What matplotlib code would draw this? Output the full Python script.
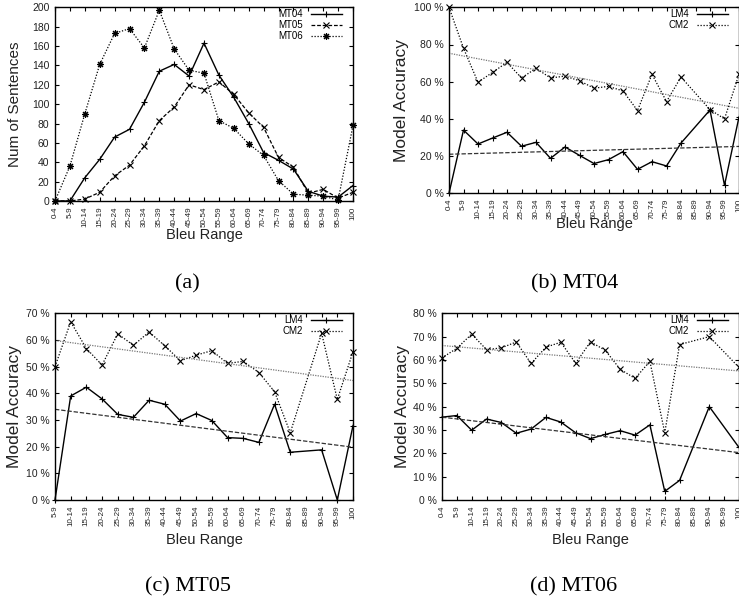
import numpy as np
import matplotlib.pyplot as plt
from matplotlib.ticker import FuncFormatter

plt.rcParams['font.family'] = ['Liberation Sans', 'DejaVu Sans']

# categories
bleu_ranges = ['0-4', '5-9', '10-14', '15-19', '20-24', '25-29', '30-34', '35-39',
               '40-44', '45-49', '50-54', '55-59', '60-64', '65-69', '70-74',
               '75-79', '80-84', '85-89', '90-94', '95-99', '100']
bleu_ranges_c = bleu_ranges[1:]

# (a) number of sentences in each bleu range
mt04_counts = [0, 0, 24, 43, 66, 74, 102, 134, 141, 129, 163, 130, 107, 80, 50, 42, 33, 10, 5, 4, 16]
mt05_counts = [0, 0, 2, 9, 26, 37, 57, 83, 97, 120, 115, 123, 110, 91, 76, 45, 35, 8, 12, 3, 9]
mt06_counts = [0, 36, 90, 141, 173, 178, 158, 197, 157, 135, 132, 83, 75, 59, 47, 21, 7, 6, 5, 1, 78]

# (b) MT04 model accuracy (%), None = no data
b_lm4 = [0, 34, 26.5, 29.7, 32.8, 25.3, 27.4, 18.8, 24.9, 20.4, 16, 18.1, 22.4, 12.9, 17, 14.7, 27, None, 44.8, 4.3, 41]
b_cm2 = [100, 78, 59.7, 65, 70.4, 62, 67.2, 62, 63, 60.5, 56.5, 57.5, 55, 44.5, 64, 49.3, 62.5, None, 45, 40, 64]
b_lm4_trend = [21, 25.2]
b_cm2_trend = [75.3, 45.7]

# (c) MT05
c_lm4 = [0, 39, 42.3, 37.9, 32.1, 31, 37.4, 35.9, 29.6, 32.4, 29.8, 23.4, 23.1, 21.6, 35.9, 17.9, None, 18.8, 0, 27.9]
c_cm2 = [50, 66.8, 56.8, 50.6, 62.3, 58, 63, 57.8, 52.2, 54.3, 56, 51.2, 52, 47.8, 40.6, 25.2, None, 62.5, 37.7, 55.6]
c_lm4_trend = [34, 19.8]
c_cm2_trend = [59.8, 44.8]

# (d) MT06
d_lm4 = [35.5, 36.2, 29.9, 34.7, 33.2, 28.6, 30.4, 35.4, 33.4, 28.8, 26.3, 28.1, 29.7, 27.8, 32.2, 3.7, 8.4, None, 40, None, 22.5]
d_cm2 = [60.9, 65, 71.1, 64.4, 65.2, 67.7, 58.5, 65.5, 67.6, 58.6, 67.8, 64.1, 56, 52.1, 59.4, 28.8, 66.6, None, 70, None, 56.8]
d_lm4_trend = [35.5, 20.3]
d_cm2_trend = [66.2, 55.3]

W, H = 739, 602
fig = plt.figure(figsize=(W / 100, H / 100), dpi=100)


def px_axes(left, top, right, bottom):
    return fig.add_axes([left / W, 1 - bottom / H, (right - left) / W, (bottom - top) / H])


def style_axes(ax, labels, ymax, ystep, pct):
    ax.set_xlim(0, len(labels) - 1)
    ax.set_ylim(0, ymax)
    ax.set_xticks(np.arange(len(labels)))
    ax.set_xticklabels(labels, rotation=90, fontsize=5.8, color='#222222')
    ax.set_yticks(np.arange(0, ymax + 1, ystep))
    if pct:
        ax.yaxis.set_major_formatter(FuncFormatter(lambda v, _: f'{v:.0f} %'))
    ax.tick_params(axis='both', direction='in', top=True, right=True, length=3, width=0.8)
    ax.tick_params(axis='y', labelsize=7.5, labelcolor='#222222', pad=4)
    ax.tick_params(axis='x', pad=4)
    for s in ax.spines.values():
        s.set_linewidth(1.0)
    ax.set_xlabel('Bleu Range', fontsize=10.5, color='#222222')


def add_legend(ax):
    ax.legend(loc='upper right', bbox_to_anchor=(0.962, 0.99), frameon=False, markerfirst=False,
              fontsize=7, handlelength=3.2, handletextpad=0.8, labelspacing=0.1,
              borderpad=0, borderaxespad=0)


def series(values):
    v = np.array([np.nan if a is None else a for a in values], dtype=float)
    x = np.arange(len(v))
    ok = ~np.isnan(v)
    return x[ok], v[ok]


asterisk = (8, 2, 0)

# (a)
ax = px_axes(55, 7.3, 353, 201)
x = np.arange(len(bleu_ranges))
ax.plot(x, mt04_counts, color='black', lw=1.0, marker='+', ms=5, mew=0.8, label='MT04', clip_on=False)
ax.plot(x, mt05_counts, color='black', lw=0.9, ls=(0, (3, 1.5)), marker='x', ms=4, mew=0.8, label='MT05', clip_on=False)
ax.plot(x, mt06_counts, color='black', lw=0.9, ls=(0, (1, 1.4)), marker=asterisk, ms=5, mew=0.8, label='MT06', clip_on=False)
style_axes(ax, bleu_ranges, 200, 20, False)
ax.set_ylabel('Num of Sentences', fontsize=11, color='#222222')
ax.yaxis.set_label_coords(-0.111, 0.5)
ax.xaxis.set_label_coords(0.5, -0.139)
add_legend(ax)


def acc_panel(box, labels, lm4, cm2, lm4_trend, cm2_trend, ymax, ylab_x, xlab_y):
    ax = px_axes(*box)
    xs, ys = series(lm4)
    ax.plot(xs, ys, color='black', lw=1.0, marker='+', ms=5, mew=0.8, label='LM4', clip_on=False)
    xs, ys = series(cm2)
    ax.plot(xs, ys, color='black', lw=0.9, ls=(0, (1, 1.4)), marker='x', ms=4, mew=0.8, label='CM2', clip_on=False)
    ends = [0, len(labels) - 1]
    ax.plot(ends, lm4_trend, color='#333333', lw=0.9, ls=(0, (3.5, 1.5)))
    ax.plot(ends, cm2_trend, color='#777777', lw=0.9, ls=(0, (1, 1)))
    style_axes(ax, labels, ymax, 10 if ymax < 100 else 20, True)
    ax.set_ylabel('Model Accuracy', fontsize=12.5, color='#222222')
    ax.yaxis.set_label_coords(ylab_x, 0.5)
    ax.xaxis.set_label_coords(0.5, xlab_y)
    add_legend(ax)
    return ax


acc_panel((449, 7.3, 739, 193.3), bleu_ranges, b_lm4, b_cm2, b_lm4_trend, b_cm2_trend, 100, -0.138, -0.13)
acc_panel((55, 313.3, 353, 500), bleu_ranges_c, c_lm4, c_cm2, c_lm4_trend, c_cm2_trend, 70, -0.111, -0.177)
acc_panel((442, 313.3, 739, 500), bleu_ranges, d_lm4, d_cm2, d_lm4_trend, d_cm2_trend, 80, -0.108, -0.177)

cap = dict(ha='center', va='center', fontsize=16, family=['Liberation Serif', 'DejaVu Serif'])
fig.text(187.5 / W, 1 - 283.5 / H, '(a)', **cap)
fig.text(575 / W, 1 - 283.5 / H, '(b) MT04', **cap)
fig.text(187.5 / W, 1 - 587 / H, '(c) MT05', **cap)
fig.text(573.5 / W, 1 - 587 / H, '(d) MT06', **cap)

fig.savefig('out.png', dpi=100)
